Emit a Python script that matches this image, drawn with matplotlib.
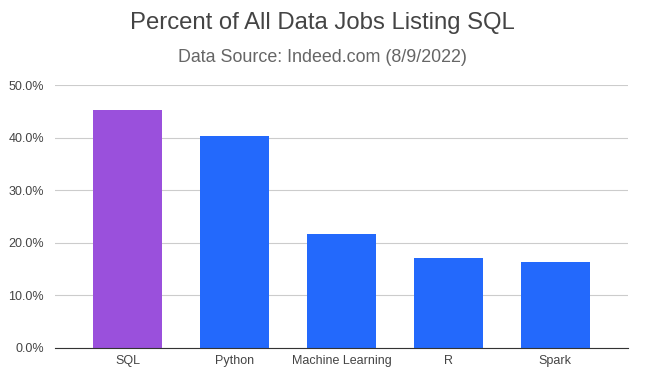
import matplotlib.pyplot as plt
from matplotlib.ticker import PercentFormatter

plt.rcParams['font.family'] = ['Liberation Sans', 'DejaVu Sans']

skills = ['SQL', 'Python', 'Machine Learning', 'R', 'Spark']
pct = [45.3, 40.4, 21.7, 17.2, 16.4]
colors = ['#9a50dc', '#2369fc', '#2369fc', '#2369fc', '#2369fc']

fig = plt.figure(figsize=(6.45, 3.84), dpi=100)
ax = fig.add_axes([0.0853, 0.0938, 0.8883, 0.6848])

x = range(len(skills))
ax.bar(x, pct, width=0.65, color=colors, zorder=3)

ax.set_xlim(-0.68, 4.68)
ax.set_ylim(0, 50)
ax.set_yticks([0, 10, 20, 30, 40, 50])
ax.yaxis.set_major_formatter(PercentFormatter(decimals=1))
ax.set_xticks(list(x))
ax.set_xticklabels(skills)
ax.tick_params(axis='both', length=0, labelsize=9, colors='#444444')
ax.tick_params(axis='x', pad=5)
ax.tick_params(axis='y', pad=8)
ax.grid(axis='y', color='#cccccc', linewidth=0.8, zorder=0)
for s in ['top', 'right', 'left']:
    ax.spines[s].set_visible(False)
ax.spines['bottom'].set_color('#333333')
ax.spines['bottom'].set_zorder(4)

fig.text(0.5, 0.94, 'Percent of All Data Jobs Listing SQL', ha='center', va='center',
         fontsize=17.2, color='#444444')
fig.text(0.5, 0.849, 'Data Source: Indeed.com (8/9/2022)', ha='center', va='center',
         fontsize=12.9, color='#666666')

fig.savefig('out.png', dpi=100)
